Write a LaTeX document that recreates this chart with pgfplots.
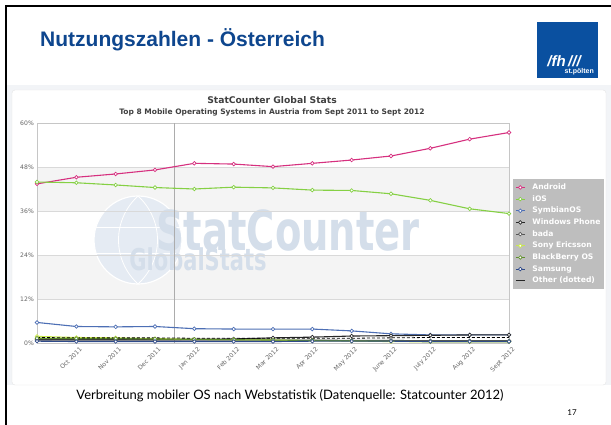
\documentclass[border=0pt]{standalone}
\usepackage{fontspec}
\setmainfont{Liberation Sans}
\newfontfamily\verd{DejaVu Sans}
\newfontfamily\gill{Lato}
\usepackage{pgfplots}
\pgfplotsset{compat=1.18}
\definecolor{titleblue}{RGB}{14,70,142}
\definecolor{logoblue}{RGB}{10,80,160}
\definecolor{cAndroid}{RGB}{214,48,127}
\definecolor{cIOS}{RGB}{133,208,68}
\definecolor{cSymb}{RGB}{77,111,181}
\definecolor{cWP}{RGB}{40,40,40}
\definecolor{cBada}{RGB}{85,85,85}
\definecolor{cSony}{RGB}{201,232,74}
\definecolor{cBB}{RGB}{95,143,44}
\definecolor{cSams}{RGB}{47,74,138}
\definecolor{legendgray}{RGB}{190,190,190}
\definecolor{panelgray}{RGB}{242,244,247}
\definecolor{bandgray}{RGB}{244,244,244}
\definecolor{wmblue}{RGB}{212,222,234}
\begin{document}
\begin{tikzpicture}[x=1pt,y=1pt]
\path[use as bounding box] (0,0) rectangle (611,425);
\clip (0,0) rectangle (611,425);
\fill[white] (0,0) rectangle (611,425);
% screenshot background
\fill[panelgray] (7,40) rectangle (611,340);
\fill[white,draw=gray!20,rounded corners=3pt] (12,40) rectangle (606,335);
% slide frame
\draw[black,line width=2.3pt] (6,-5) -- (6,419) -- (620,419);
% slide title
\node[anchor=base west,font=\bfseries\fontsize{21}{25}\selectfont,text=titleblue,inner sep=0] at (40,378.5) {Nutzungszahlen - Österreich};
% logo
\fill[logoblue] (537,347) rectangle (598,403);
\node[text=white,font=\bfseries\itshape\fontsize{15}{17}\selectfont,inner sep=0] at (564,363.5) {/fh\,///};
\node[text=white,anchor=east,font=\bfseries\fontsize{7}{8}\selectfont,inner sep=0] at (594,353.5) {st.pölten};
% chart titles
\node[font=\verd\bfseries\fontsize{9.2}{11}\selectfont,text=black!75,inner sep=0] at (272,324.5) {StatCounter Global Stats};
\node[font=\verd\bfseries\fontsize{7.5}{9}\selectfont,text=black!75,inner sep=0] at (272,313) {Top 8 Mobile Operating Systems in Austria from Sept 2011 to Sept 2012};
% plot bands
\fill[bandgray] (37,214) rectangle (509,258);
\fill[bandgray] (37,126) rectangle (509,170);
% watermark
\fill[wmblue!60] (138,185) circle (44);
\draw[white,line width=1.2pt] (138,185) circle (44);
\draw[white,line width=0.8pt] (138,229) .. controls (112,205) and (112,165) .. (138,141);
\draw[white,line width=0.8pt] (138,229) .. controls (164,205) and (164,165) .. (138,141);
\draw[white,line width=0.8pt] (96,198) -- (180,198);
\draw[white,line width=0.8pt] (94,172) -- (182,172);
\node[text=wmblue,font=\verd\bfseries\fontsize{55}{60}\selectfont,xscale=0.7,inner sep=0] at (288,195) {StatCounter};
\node[text=wmblue,font=\verd\bfseries\fontsize{30}{32}\selectfont,xscale=0.7,inner sep=0] at (198,166) {GlobalStats};
\begin{axis}[
  at={(37pt,82pt)}, anchor=south west,
  scale only axis, width=472pt, height=220pt,
  xmin=0, xmax=12, ymin=0, ymax=60,
  xtick={1,...,12},
  xticklabels={Oct 2011,Nov 2011,Dec 2011,Jan 2012,Feb 2012,Mar 2012,Apr 2012,May 2012,June 2012,July 2012,Aug 2012,Sept 2012},
  ytick={0,12,24,36,48,60},
  yticklabels={0\%,12\%,24\%,36\%,48\%,60\%},
  ymajorgrids,
  major grid style={draw=gray!30,line width=0.6pt},
  extra x ticks={3.5}, extra x tick labels={},
  extra x tick style={grid=major,major grid style={draw=gray!65,line width=0.5pt}},
  major tick length=0pt,
  axis line style={draw=gray!45,line width=0.6pt},
  tick label style={font=\verd\fontsize{6.1}{7}\selectfont,text=black!60},
  xticklabel style={rotate=45,anchor=north east,inner sep=0.5pt,yshift=-4pt},
  yticklabel style={inner sep=1pt,xshift=-2pt},
  legend cell align=left,
  legend style={at={(1.0085,0.745)},anchor=north west,fill=legendgray,draw=none,
    font=\verd\bfseries\fontsize{7.6}{9}\selectfont,text=white,
    row sep=0.4pt,inner xsep=2pt,inner ysep=2.5pt,
    /tikz/every odd column/.append style={column sep=5pt}},
  legend image code/.code={\draw[#1,mark repeat=2,mark phase=2] plot coordinates {(0pt,0pt) (4.5pt,0pt) (9pt,0pt)};},
  every axis plot/.append style={line width=1.1pt,mark=*,mark size=1.8pt,mark options={fill=white,line width=0.7pt,solid}},
]
\addplot[cAndroid] coordinates {(0,43.4)(1,45.2)(2,46.1)(3,47.2)(4,49.0)(5,48.8)(6,48.1)(7,49.0)(8,49.9)(9,51.0)(10,53.1)(11,55.6)(12,57.4)};
\addlegendentry{Android}
\addplot[cIOS] coordinates {(0,43.9)(1,43.7)(2,43.1)(3,42.4)(4,42.0)(5,42.5)(6,42.3)(7,41.7)(8,41.6)(9,40.7)(10,38.9)(11,36.6)(12,35.3)};
\addlegendentry{iOS}
\addplot[cSymb] coordinates {(0,5.6)(1,4.5)(2,4.4)(3,4.5)(4,3.9)(5,3.8)(6,3.8)(7,3.8)(8,3.3)(9,2.5)(10,2.2)(11,2.2)(12,2.2)};
\addlegendentry{SymbianOS}
\addplot[cWP] coordinates {(0,0.9)(1,0.9)(2,0.9)(3,0.9)(4,1.0)(5,1.1)(6,1.4)(7,1.6)(8,1.9)(9,2.0)(10,2.1)(11,2.2)(12,2.2)};
\addlegendentry{Windows Phone}
\addplot[cBada] coordinates {(0,0.8)(1,0.8)(2,0.8)(3,0.8)(4,0.8)(5,0.8)(6,0.8)(7,0.8)(8,0.7)(9,0.7)(10,0.6)(11,0.6)(12,0.6)};
\addlegendentry{bada}
\addplot[cSony] coordinates {(0,1.8)(1,1.5)(2,1.4)(3,1.2)(4,1.0)(5,0.9)(6,0.8)(7,0.6)(8,0.5)(9,0.4)(10,0.3)(11,0.3)(12,0.3)};
\addlegendentry{Sony Ericsson}
\addplot[cBB] coordinates {(0,1.3)(1,1.2)(2,1.2)(3,1.1)(4,1.0)(5,0.9)(6,0.8)(7,0.7)(8,0.6)(9,0.5)(10,0.4)(11,0.4)(12,0.4)};
\addlegendentry{BlackBerry OS}
\addplot[cSams] coordinates {(0,0.5)(1,0.4)(2,0.4)(3,0.4)(4,0.4)(5,0.4)(6,0.4)(7,0.5)(8,0.5)(9,0.5)(10,0.4)(11,0.4)(12,0.4)};
\addlegendentry{Samsung}
\addplot[black,densely dashed,line width=0.8pt,mark=none,forget plot] coordinates {(0,1.5)(1,1.4)(2,1.4)(3,1.4)(4,1.3)(5,1.3)(6,1.3)(7,1.3)(8,1.3)(9,1.4)(10,1.5)(11,1.5)(12,1.5)};
\addlegendimage{black!85,line width=1.2pt,mark=none}
\addlegendentry{Other (dotted)}
\end{axis}
% caption and page number
\node[font=\gill\fontsize{13}{15}\selectfont,inner sep=0] at (290,29) {Verbreitung mobiler OS nach Webstatistik (Datenquelle: Statcounter 2012)};
\node[font=\gill\fontsize{8}{9}\selectfont,inner sep=0] at (572,12) {17};
\end{tikzpicture}
\end{document}
